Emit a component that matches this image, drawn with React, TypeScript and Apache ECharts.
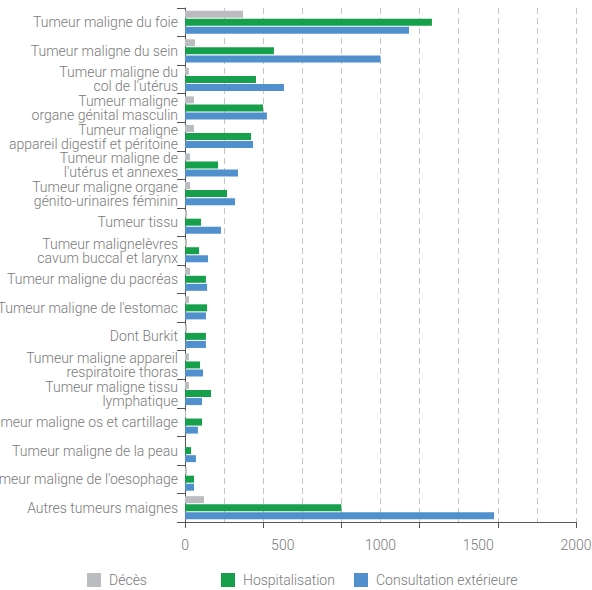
import React, { useEffect, useRef } from "react";
import * as echarts from "echarts";

const categories = [
  "Tumeur maligne du foie",
  "Tumeur maligne du sein",
  "Tumeur maligne du\ncol de l'utérus",
  "Tumeur maligne\norgane génital masculin",
  "Tumeur maligne\nappareil digestif et péritoine",
  "Tumeur maligne de\nl'utérus et annexes",
  "Tumeur maligne organe\ngénito-urinaires féminin",
  "Tumeur tissu",
  "Tumeur malignelèvres\ncavum buccal et larynx",
  "Tumeur maligne du pacréas",
  "Tumeur maligne de l'estomac",
  "Dont Burkit",
  "Tumeur maligne appareil\nrespiratoire thoras",
  "Tumeur maligne tissu\nlymphatique",
  "Tumeur maligne os et cartillage",
  "Tumeur maligne de la peau",
  "Tumeur maligne de l'oesophage",
  "Autres tumeurs maignes",
];

const deces = [297, 51, 20, 46, 46, 26, 26, 10, 10, 26, 20, 10, 20, 20, 5, 0, 10, 97];
const hospitalisation = [1263, 455, 363, 399, 338, 169, 215, 82, 72, 107, 113, 107, 77, 133, 87, 31, 46, 800];
const consultation = [1146, 1000, 506, 419, 348, 271, 256, 184, 118, 113, 107, 107, 92, 87, 66, 56, 46, 1581];

const seriesNames = ["Décès", "Hospitalisation", "Consultation extérieure"];
const colors = ["#bbbcc0", "#17a04b", "#5091cd"];

const FONT = "Roboto";
const TEXT = "#7a7a7a";
const AXIS = "#555555";

export default function App() {
  const ref = useRef<HTMLDivElement>(null);
  useEffect(() => {
    document.body.style.margin = "0";
    if (!ref.current) return;
    const chart = echarts.init(ref.current, undefined, { renderer: "svg" });
    const base = { type: "value", min: 0, max: 2000, position: "bottom" };
    const legendLefts = [87, 221, 354];
    chart.setOption({
      animation: false,
      grid: {
        left: 185,
        right: 16,
        top: 8,
        bottom: 68,
        containLabel: false,
        outerBoundsMode: "none",
      },
      xAxis: [
        {
          ...base,
          interval: 500,
          axisLine: { show: true, lineStyle: { color: AXIS, width: 1 } },
          axisTick: { show: false },
          splitLine: { show: false },
          axisLabel: {
            color: TEXT,
            fontSize: 14,
            fontFamily: FONT,
            fontWeight: 300,
            margin: 16,
            formatter: (v: number) => String(v),
          },
        },
        {
          ...base,
          interval: 200,
          axisLine: { show: false },
          axisTick: { show: false },
          axisLabel: { show: false },
          splitLine: { show: true, lineStyle: { color: "#c4c4c4", type: [6, 4], width: 1 } },
        },
        {
          ...base,
          interval: 400,
          axisLine: { show: false },
          axisTick: { show: true, length: 6, lineStyle: { color: AXIS } },
          axisLabel: { show: false },
          splitLine: { show: false },
        },
      ],
      yAxis: {
        type: "category",
        inverse: true,
        data: categories,
        axisLine: { show: true, lineStyle: { color: AXIS, width: 1 } },
        axisTick: { show: true, alignWithLabel: false, length: 8, lineStyle: { color: AXIS } },
        axisLabel: {
          color: TEXT,
          fontSize: 14,
          fontFamily: FONT,
          fontWeight: 300,
          lineHeight: 14,
          margin: 7,
          interval: 0,
        },
        splitLine: { show: false },
      },
      legend: seriesNames.map((name, i) => ({
        data: [name],
        left: legendLefts[i],
        top: 573,
        icon: "rect",
        itemWidth: 14,
        itemHeight: 14,
        padding: 0,
        selectedMode: false,
        textStyle: { color: TEXT, fontSize: 14, fontFamily: FONT, fontWeight: 300, padding: [0, 0, 0, 3] },
      })),
      series: [deces, hospitalisation, consultation].map((d, i) => ({
        name: seriesNames[i],
        type: "bar",
        xAxisIndex: 0,
        data: d,
        barWidth: 7,
        barGap: "15%",
        itemStyle: { color: colors[i] },
      })),
    });
    return () => chart.dispose();
  }, []);
  return <div ref={ref} style={{ width: 592, height: 590 }} />;
}
